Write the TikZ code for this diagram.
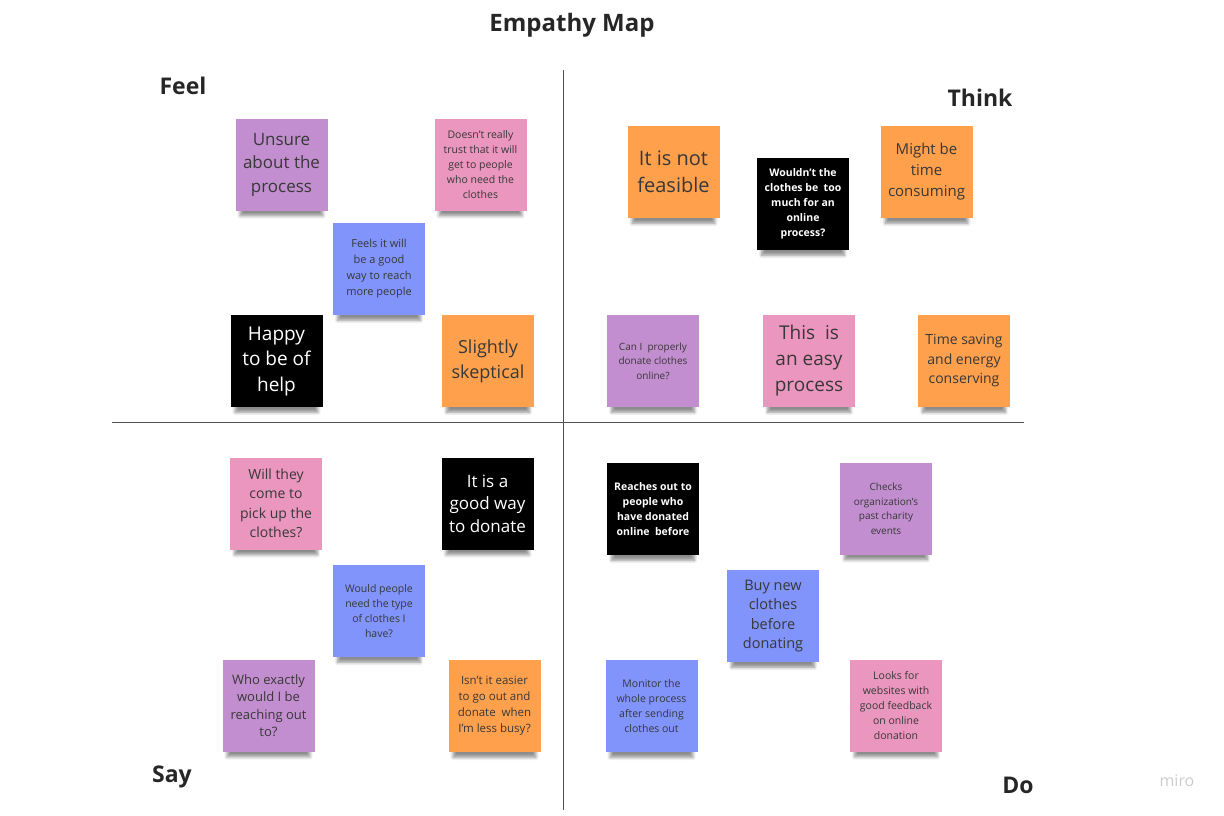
\documentclass[tikz,border=0pt]{standalone}
\usepackage{fontspec}
\setmainfont{Open Sans}
\usepackage{xcolor}
\usepackage{tikz}
\usetikzlibrary{shadows.blur}

\definecolor{noteviolet}{HTML}{C28ECF}
\definecolor{notepink}{HTML}{EB96BE}
\definecolor{noteblue}{HTML}{8094FB}
\definecolor{noteorange}{HTML}{FFA04D}
\definecolor{notetext}{HTML}{383838}
\definecolor{axisgray}{HTML}{505050}

\begin{document}
\begin{tikzpicture}[x=1pt, y=-1pt,
    every node/.style={font=\small},
    note/.style={rectangle, minimum width=92pt, minimum height=92pt, inner sep=0pt, align=center, text=notetext,
        blur shadow={shadow xshift=0pt, shadow yshift=-11pt, shadow scale=0.9, shadow opacity=45, shadow blur steps=6, shadow blur radius=3.5pt}},
    vnote/.style={note, fill=noteviolet},
    pnote/.style={note, fill=notepink},
    bnote/.style={note, fill=noteblue},
    onote/.style={note, fill=noteorange},
    knote/.style={note, fill=black, text=white},
    fsize/.style 2 args={font=\fontsize{#1}{#2}\selectfont},
    fbold/.style 2 args={font=\fontsize{#1}{#2}\selectfont\bfseries},
    heading/.style={font=\fontsize{23}{27}\selectfont\bfseries, text=black!85},
    axis/.style={draw=axisgray, line width=0.9pt}
]
\useasboundingbox (0,0) rectangle (1224,816);
% Headings
\node[heading, font=\fontsize{24}{28}\selectfont\bfseries] (title) at (572,25) {Empathy Map};
\node[heading] (feel) at (183,86) {Feel};
\node[heading] (think) at (980,98) {Think};
\node[heading] (say) at (172,777) {Say};
\node[heading] (do) at (1018,785) {Do};
\node[font=\fontsize{16}{18}\selectfont, text=black!20] (miro) at (1177,781) {miro};
% Axes
\coordinate (vtop) at (563,70);
\coordinate (vbot) at (563,810);
\coordinate (hleft) at (112,422);
\coordinate (hright) at (1024,422);
\draw[axis] (vtop) -- (vbot);
\draw[axis] (hleft) -- (hright);
% Feel
\node[vnote, fsize={17}{23.5}] (unsure) at (281.5,164.5) {Unsure\\about the\\process};
\node[pnote, fsize={10.5}{15}] (trust) at (480.5,164.5) {Doesn't really\\trust that it will\\get to people\\who need the\\clothes};
\node[bnote, fsize={11}{16}] (reach) at (379,269) {Feels it will\\be a good\\way to reach\\more people};
\node[knote, fsize={19}{25.5}] (happy) at (276.5,361) {Happy\\to be of\\help};
\node[onote, fsize={18}{25}] (skeptic) at (488,361) {Slightly\\skeptical};
% Think
\node[onote, fsize={20}{27}] (feasible) at (673.5,172) {It is not\\feasible};
\node[knote, fbold={10.5}{15}] (toomuch) at (803,204) {Wouldn't the\\clothes be\ \ too\\much for an\\online\\process?};
\node[onote, fsize={15}{21}] (timecons) at (926.5,172) {Might be\\time\\consuming};
\node[vnote, fsize={10}{14.5}] (properly) at (653,361) {Can I\ \ properly\\donate clothes\\online?};
\node[pnote, fsize={19}{26}] (easy) at (809,361) {This\ \ is\\an easy\\process};
\node[onote, fsize={14}{19.5}] (saving) at (964,361) {Time saving\\and energy\\conserving};
% Say
\node[pnote, fsize={14}{19.5}] (pickup) at (276,503.5) {Will they\\come to\\pick up the\\clothes?};
\node[knote, fsize={17}{22.5}] (goodway) at (487.5,503.5) {It is a\\good way\\to donate};
\node[bnote, fsize={10.5}{15}] (needtype) at (379,611) {Would people\\need the type\\of clothes I\\have?};
\node[vnote, fsize={13}{17.5}] (whoexact) at (268.5,705.5) {Who exactly\\would I be\\reaching out\\to?};
\node[onote, fsize={11.5}{16}] (easier) at (494.5,706) {Isn't it easier\\to go out and\\donate\ \ when\\I'm less busy?};
% Do
\node[knote, fbold={10.5}{15}] (reaches) at (653,509) {Reaches out to\\people who\\have donated\\online\ \ before};
\node[vnote, fsize={10}{14.5}] (checks) at (886,508.5) {Checks\\organization's\\past charity\\events};
\node[bnote, fsize={14.5}{19.3}] (buynew) at (773,616) {Buy new\\clothes\\before\\donating};
\node[bnote, fsize={10.5}{15}] (monitor) at (651.5,706) {Monitor the\\whole process\\after sending\\clothes out};
\node[pnote, fsize={10.5}{15}] (looks) at (896,705.5) {Looks for\\websites with\\good feedback\\on online\\donation};
\end{tikzpicture}
\end{document}
